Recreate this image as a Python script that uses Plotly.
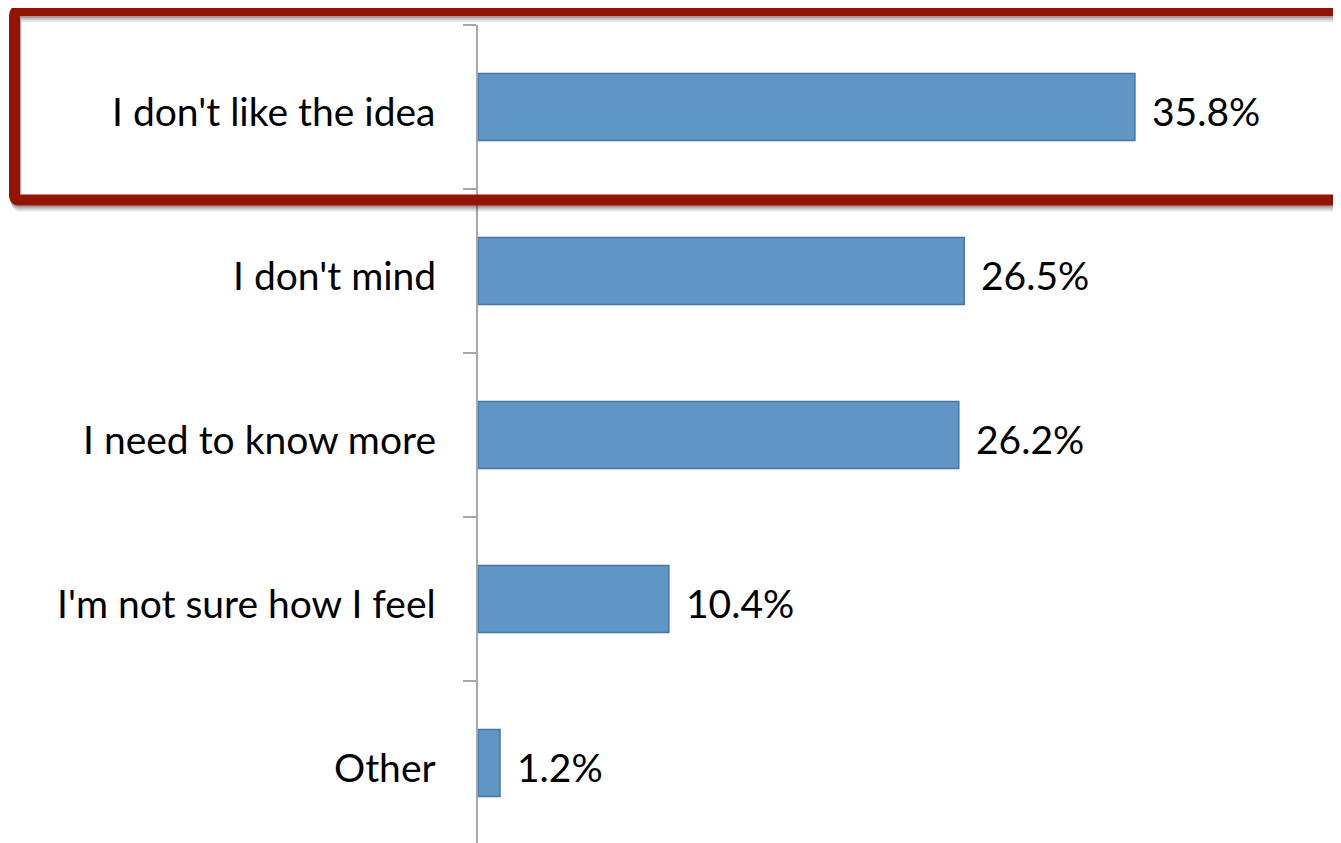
import plotly.graph_objects as go

categories = ["I don't like the idea", "I don't mind", "I need to know more",
              "I'm not sure how I feel", "Other"]
values = [35.8, 26.5, 26.2, 10.4, 1.2]
value_labels = ["35.8%", "26.5%", "26.2%", "10.4%", "1.2%"]

# The page body has an 8px default margin; compensate for it.
OFF = 8
W, H = 1341 - OFF, 843 - OFF
ML, MR, MT, MB = 478 - OFF, 0, 25 - OFF, 0
PW, PH = W - ML - MR, H - MT - MB
PX_PER_UNIT = 18.35
CAT_PX = 164

FONT = "Lato"
FS = 39

fig = go.Figure()
fig.add_trace(go.Bar(
    y=categories, x=values, orientation="h", width=0.41,
    marker=dict(color="#5F96C6", line=dict(color="#4676A6", width=1.5)),
    hoverinfo="skip",
))

for c, v, t in zip(categories, values, value_labels):
    fig.add_annotation(x=v, y=c, text=t, showarrow=False, xanchor="left",
                       xshift=15, yshift=-4, font=dict(family=FONT, size=FS, color="#000"))
    fig.add_annotation(x=0, y=c, text=c, showarrow=False, xanchor="right",
                       xshift=-40, yshift=-4, font=dict(family=FONT, size=FS, color="#000"))

def px_to_paper_x(px):
    return (px - OFF - ML) / PW

def px_to_paper_y(py):
    return 1 - (py - OFF - MT) / PH

def rounded_path(x0, y0, x1, y1, r):
    X = px_to_paper_x
    Y = px_to_paper_y
    rx = r / PW
    ry = r / PH
    a, b, c, d = X(x0), Y(y0), X(x1), Y(y1)
    return (f"M {a+rx},{b} L {c-rx},{b} Q {c},{b} {c},{b-ry} "
            f"L {c},{d+ry} Q {c},{d} {c-rx},{d} L {a+rx},{d} Q {a},{d} {a},{d+ry} "
            f"L {a},{b-ry} Q {a},{b} {a+rx},{b} Z")

for off, op in [(6, 0.10), (4, 0.14), (2, 0.18)]:
    fig.add_shape(type="path", xref="paper", yref="paper", layer="above",
                  path=rounded_path(14.5 + off * 0.3, 10.5 + off, 1380, 200 + off, 5),
                  line=dict(color=f"rgba(0,0,0,{op})", width=11))
fig.add_shape(type="path", xref="paper", yref="paper", layer="above",
              path=rounded_path(14.5, 10.5, 1380, 200, 5),
              line=dict(color="#951300", width=11))

fig.update_layout(
    width=W, height=H,
    margin=dict(l=ML, r=MR, t=MT, b=MB, pad=0),
    paper_bgcolor="white", plot_bgcolor="white",
    showlegend=False,
    bargap=0.59,
    xaxis=dict(range=[0, PW / PX_PER_UNIT], visible=False, showgrid=False, zeroline=False),
    yaxis=dict(
        type="category", categoryorder="array", categoryarray=categories,
        range=[-0.5 + PH / CAT_PX, -0.5],
        showline=True, linecolor="#A8A8A8", linewidth=2,
        ticks="outside", tickson="boundaries", ticklen=13, tickcolor="#A8A8A8", tickwidth=2,
        showticklabels=False,
        showgrid=False, zeroline=False,
    ),
)

fig.write_html("out.html")
